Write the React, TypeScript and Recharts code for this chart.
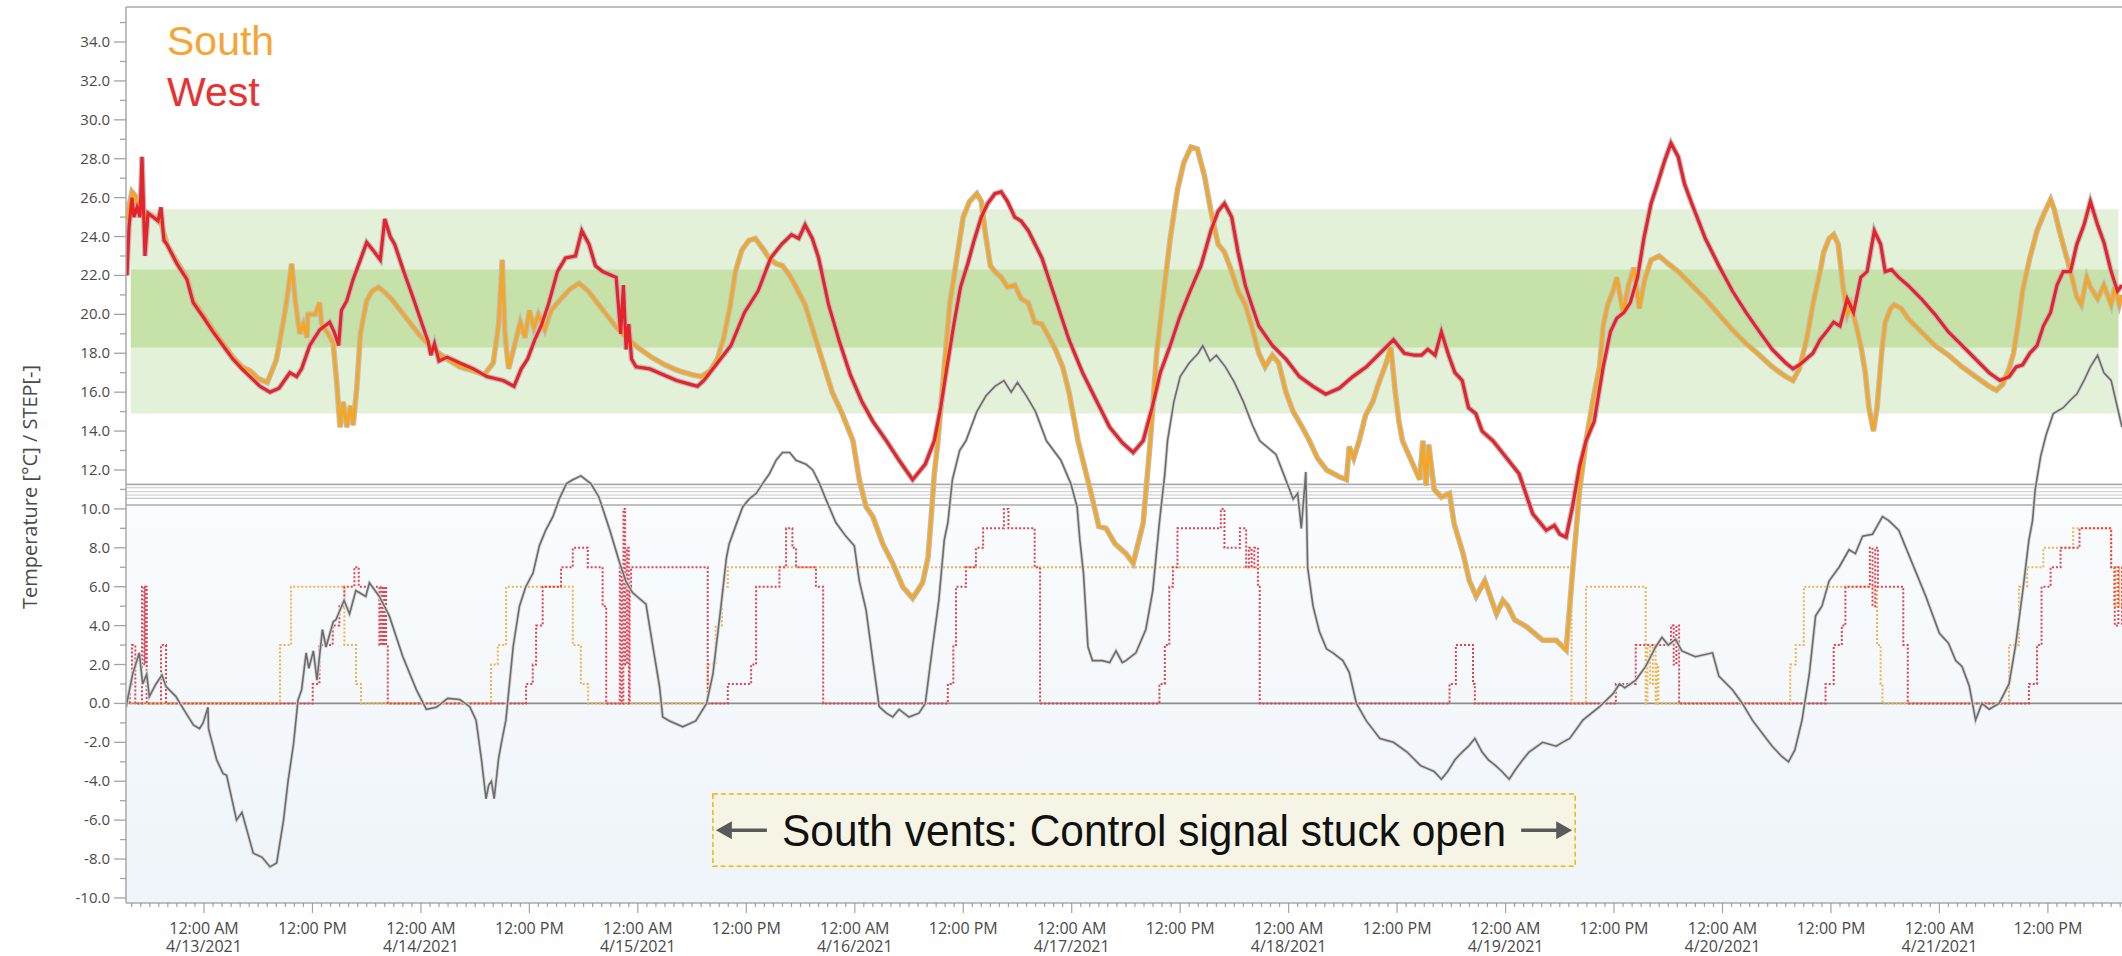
import React from "react";
import { LineChart, Line, XAxis, YAxis, ReferenceArea, ReferenceLine } from "recharts";

// hours counted from 4/13/2021 12:00 AM
const X_MIN = -8.63;
const X_MAX = 212.2;
const Y_MIN = -10.26;
const Y_MAX = 35.8;
const PLOT_LEFT = 126;
const AXIS_Y = 903;

const dateLabels = [
  "4/13/2021", "4/14/2021", "4/15/2021", "4/16/2021", "4/17/2021",
  "4/18/2021", "4/19/2021", "4/20/2021", "4/21/2021",
];
const halfDayLabels = ["12:00 AM", "12:00 PM"];
const hourTicks = Array.from({ length: 221 }, (_, i) => i - 8);
const yTicks = Array.from({ length: 46 }, (_, i) => i - 10);
const breakLines = [11.26, 11.09, 10.88, 10.71, 10.54, 10.2];

const southTemp: [number, number][] = [
  [-8.55, 24.8], [-8.3, 25.5], [-7.97, 26.3], [-7.6, 26.1], [-7.3, 25.4], [-7.0, 26.0], [-6.7, 25.2],
  [-6.3, 25.0], [-5.8, 25.1], [-5.2, 24.9], [-4.7, 24.6], [-4.1, 23.6], [-3.0, 22.7], [-1.9, 21.9],
  [-1.2, 20.7], [0.0, 19.9], [1.0, 19.2], [2.1, 18.5], [3.2, 17.8], [4.2, 17.3], [5.1, 17.1], [6.0, 16.7],
  [7.0, 16.5], [8.0, 17.65], [8.8, 19.7], [9.15, 20.7], [9.7, 22.6], [10.1, 20.7], [10.6, 19.0], [11.0, 19.5],
  [11.4, 18.8], [11.5, 20.0], [12.3, 20.0], [12.8, 20.6], [13.0, 19.5], [13.75, 19.0], [14.3, 18.5],
  [14.7, 16.4], [15.05, 14.2], [15.4, 15.5], [15.8, 14.2], [16.2, 15.3], [16.5, 14.3], [16.9, 16.2],
  [17.3, 19.0], [18.0, 20.7], [18.6, 21.2], [19.3, 21.4], [20.1, 21.1], [20.9, 20.7], [22.4, 19.8],
  [23.9, 18.9], [25.4, 18.2], [26.9, 17.7], [28.3, 17.3], [29.8, 17.1], [31.0, 16.9], [32.0, 17.5],
  [32.6, 19.5], [33.0, 22.8], [33.3, 19.0], [33.7, 17.2], [34.4, 18.5], [35.0, 19.6], [35.5, 18.8],
  [36.0, 20.2], [36.5, 19.3], [37.0, 20.0], [37.7, 19.2], [38.4, 20.2], [39.5, 20.8], [40.5, 21.3],
  [41.5, 21.6], [42.5, 21.2], [43.5, 20.6], [44.5, 20.0], [45.5, 19.4], [46.5, 18.9], [48.0, 18.3],
  [49.5, 17.8], [51.0, 17.4], [52.5, 17.1], [54.0, 16.9], [55.0, 16.8], [56.0, 17.1], [56.8, 17.7],
  [57.5, 18.8], [58.2, 20.4], [58.8, 22.2], [59.5, 23.3], [60.3, 23.8], [61.0, 23.9], [61.8, 23.4],
  [62.5, 22.9], [63.3, 22.6], [64.0, 22.5], [64.8, 22.0], [65.5, 21.4], [66.5, 20.5], [67.5, 19.0],
  [68.5, 17.5], [69.5, 16.0], [70.6, 14.9], [71.8, 13.5], [72.5, 11.5], [73.25, 10.1], [74.0, 9.6],
  [75.1, 8.2], [76.2, 7.2], [77.3, 6.0], [78.4, 5.4], [79.5, 6.2], [80.1, 7.5], [80.4, 9.25], [80.8, 11.8],
  [81.2, 13.5], [81.9, 17.3], [82.5, 20.5], [83.3, 22.9], [84.0, 25.0], [84.7, 25.8], [85.5, 26.2],
  [86.0, 25.8], [86.4, 24.3], [87.0, 22.5], [87.5, 22.2], [88.2, 21.9], [88.9, 21.4], [89.7, 21.5],
  [90.4, 20.8], [91.2, 20.6], [91.9, 19.6], [92.7, 19.5], [93.4, 18.9], [94.2, 18.2], [95.0, 17.3],
  [95.7, 16.0], [96.7, 13.5], [98.3, 10.5], [99.0, 9.1], [99.8, 9.0], [100.8, 8.2], [102.0, 7.7],
  [102.8, 7.2], [103.9, 9.25], [104.7, 13.5], [105.4, 18.0], [106.2, 21.2], [106.9, 23.9], [107.7, 26.4],
  [108.4, 27.8], [109.2, 28.6], [109.9, 28.5], [110.7, 27.1], [111.4, 25.3], [112.2, 23.6], [112.9, 23.2],
  [113.7, 22.2], [114.4, 21.2], [115.2, 20.5], [115.9, 19.4], [116.7, 18.0], [117.4, 17.3], [118.2, 17.9],
  [118.9, 17.5], [119.7, 16.0], [120.5, 15.0], [121.5, 14.2], [122.3, 13.5], [123.2, 12.6], [124.2, 12.0],
  [125.6, 11.65], [126.4, 11.5], [126.7, 13.2], [127.2, 12.6], [127.8, 13.5], [128.5, 14.8], [129.3, 15.5],
  [130.0, 16.5], [130.8, 17.5], [131.3, 18.3], [131.8, 16.0], [132.2, 14.5], [132.6, 13.5], [134.5, 11.5],
  [134.85, 13.5], [135.2, 11.2], [135.5, 13.3], [136.1, 11.0], [136.9, 10.6], [137.8, 10.8], [138.3, 9.25],
  [139.3, 7.7], [140.0, 6.3], [140.75, 5.5], [141.7, 6.3], [142.2, 5.65], [143.0, 4.6], [143.7, 5.3],
  [144.25, 5.0], [145.0, 4.3], [146.3, 3.95], [148.1, 3.25], [149.6, 3.25], [150.7, 2.74], [151.4, 6.7],
  [152.2, 11.0], [152.9, 13.5], [153.8, 15.9], [154.4, 17.3], [154.8, 19.4], [155.3, 20.5], [155.9, 21.2],
  [156.3, 21.9], [157.0, 20.1], [157.6, 21.5], [158.2, 22.4], [158.8, 20.3], [159.4, 21.8], [160.1, 22.8],
  [161.0, 23.0], [162.0, 22.6], [163.1, 22.2], [164.6, 21.5], [166.1, 20.8], [167.6, 20.0], [169.1, 19.2],
  [170.6, 18.5], [172.1, 17.9], [173.5, 17.3], [175.0, 16.8], [175.8, 16.6], [176.5, 17.2], [177.3, 18.7],
  [178.0, 20.5], [178.8, 22.2], [179.2, 23.2], [179.8, 23.9], [180.3, 24.1], [180.8, 23.6], [181.4, 21.2],
  [181.8, 20.0], [182.2, 20.5], [182.8, 19.4], [183.3, 18.4], [183.8, 17.0], [184.2, 15.2], [184.7, 14.0],
  [185.1, 15.2], [185.6, 18.0], [186.0, 19.6], [186.6, 20.3], [187.0, 20.5], [187.8, 20.3], [188.5, 19.8],
  [190.0, 19.1], [191.5, 18.4], [193.0, 17.9], [194.5, 17.3], [196.0, 16.8], [197.5, 16.3], [198.3, 16.1],
  [199.0, 16.4], [199.7, 17.2], [200.2, 18.0], [200.8, 19.8], [201.2, 21.2], [202.0, 22.9], [202.8, 24.3],
  [203.5, 25.1], [204.3, 25.9], [204.7, 25.4], [205.0, 24.8], [205.5, 23.9], [206.1, 22.9], [206.5, 22.2],
  [207.2, 20.9], [207.7, 20.5], [208.3, 21.9], [208.7, 21.4], [209.5, 20.8], [210.2, 21.5], [211.0, 20.5],
  [211.4, 21.4], [211.9, 20.5], [212.2, 21.0],
];

const westTemp: [number, number][] = [
  [-8.52, 22.0], [-8.3, 24.5], [-7.97, 26.0], [-7.75, 25.0], [-7.41, 25.5], [-7.08, 25.0], [-6.86, 28.1],
  [-6.53, 23.0], [-6.2, 25.2], [-5.64, 25.0], [-5.09, 24.8], [-4.76, 25.5], [-4.43, 23.8], [-4.1, 23.6],
  [-3.0, 22.6], [-1.9, 21.8], [-1.2, 20.6], [0.0, 19.8], [1.0, 19.1], [2.1, 18.4], [3.2, 17.7], [4.2, 17.2],
  [5.1, 16.8], [6.2, 16.3], [7.3, 16.0], [8.3, 16.2], [9.5, 17.0], [10.25, 16.8], [10.8, 17.2], [11.7, 18.4],
  [12.8, 19.2], [13.9, 19.6], [14.4, 19.1], [14.9, 18.4], [15.2, 20.2], [15.8, 20.7], [16.5, 21.8],
  [17.3, 22.8], [18.0, 23.7], [18.7, 23.3], [19.5, 22.8], [20.0, 24.9], [20.6, 24.0], [21.1, 23.6],
  [22.1, 22.2], [23.1, 20.9], [24.2, 19.4], [24.8, 18.6], [25.1, 17.9], [25.5, 18.5], [26.0, 17.6],
  [26.9, 17.8], [28.3, 17.5], [29.8, 17.2], [31.3, 16.8], [33.1, 16.6], [34.3, 16.3], [35.1, 17.2],
  [35.8, 17.7], [36.6, 18.7], [37.3, 19.4], [38.1, 20.5], [39.1, 22.2], [40.0, 22.9], [41.1, 23.0],
  [41.8, 24.3], [42.6, 23.6], [43.3, 22.5], [44.1, 22.2], [45.1, 22.0], [45.6, 21.9], [46.1, 19.0],
  [46.4, 21.5], [46.7, 18.2], [47.0, 19.5], [47.3, 17.7], [47.8, 17.3], [49.3, 17.2], [50.8, 16.9],
  [52.3, 16.6], [53.8, 16.4], [54.6, 16.3], [55.3, 16.6], [56.8, 17.5], [58.3, 18.4], [59.8, 20.1],
  [61.3, 21.2], [62.7, 22.9], [63.9, 23.6], [65.0, 24.1], [65.8, 23.9], [66.5, 24.6], [67.3, 23.9],
  [68.0, 22.9], [69.1, 20.5], [70.3, 18.6], [71.5, 16.9], [72.8, 15.5], [74.0, 14.5], [75.5, 13.5],
  [76.9, 12.5], [78.4, 11.5], [79.8, 12.3], [80.8, 13.5], [81.5, 15.2], [82.2, 17.3], [83.0, 19.6],
  [83.7, 21.4], [84.5, 22.6], [85.2, 23.8], [86.0, 25.0], [86.7, 25.7], [87.5, 26.2], [88.2, 26.3],
  [88.9, 25.8], [89.7, 25.0], [90.4, 24.8], [91.2, 24.3], [92.7, 22.9], [94.2, 20.8], [95.7, 18.7],
  [97.2, 17.0], [98.7, 15.6], [100.2, 14.2], [101.6, 13.4], [102.8, 12.9], [103.9, 13.5], [104.9, 15.2],
  [105.8, 17.0], [106.9, 18.4], [107.9, 19.8], [109.1, 21.2], [110.3, 22.5], [111.4, 24.3], [112.2, 25.3],
  [112.9, 25.7], [113.7, 25.0], [114.4, 23.2], [115.2, 21.5], [115.9, 20.5], [116.7, 19.4], [118.2, 18.4],
  [119.7, 17.7], [121.2, 16.8], [122.7, 16.3], [124.1, 15.9], [125.6, 16.2], [127.1, 16.8], [128.6, 17.3],
  [130.1, 18.0], [131.6, 18.7], [132.8, 18.0], [133.9, 17.9], [134.7, 17.9], [135.4, 18.2], [136.2, 17.9],
  [136.9, 19.1], [137.7, 17.9], [138.4, 17.0], [139.2, 16.6], [139.9, 15.2], [140.7, 14.9], [141.4, 14.0],
  [142.6, 13.5], [145.5, 11.8], [147.0, 9.75], [148.5, 8.9], [149.4, 9.15], [150.0, 8.7], [150.7, 8.55],
  [151.4, 10.1], [152.2, 12.2], [152.9, 13.5], [153.8, 14.5], [154.8, 17.3], [155.6, 19.1], [156.3, 19.8],
  [157.1, 20.1], [157.8, 20.6], [158.6, 21.9], [159.3, 23.9], [160.1, 25.7], [160.8, 26.7], [161.6, 27.9],
  [162.3, 28.8], [163.1, 28.1], [163.8, 26.7], [164.6, 25.7], [166.1, 23.9], [167.6, 22.5], [169.1, 21.2],
  [170.6, 20.1], [172.1, 19.1], [173.5, 18.2], [175.0, 17.5], [175.8, 17.2], [176.5, 17.4], [178.0, 18.0],
  [178.8, 18.7], [179.5, 19.1], [180.3, 19.6], [181.0, 19.4], [181.8, 20.8], [182.5, 20.1], [183.3, 21.9],
  [184.0, 22.2], [184.8, 24.3], [185.5, 23.6], [186.0, 22.2], [186.7, 22.3], [187.5, 21.9], [188.5, 21.5],
  [190.0, 20.8], [191.5, 20.0], [193.0, 19.1], [194.5, 18.4], [196.0, 17.7], [197.5, 17.0], [198.7, 16.6],
  [199.7, 16.8], [200.5, 17.3], [201.2, 17.4], [202.0, 18.0], [202.8, 18.4], [203.5, 19.4], [204.3, 20.1],
  [205.0, 21.5], [205.7, 22.2], [206.5, 22.2], [207.2, 23.6], [208.0, 24.6], [208.7, 25.8], [209.5, 24.6],
  [210.2, 23.7], [211.0, 22.2], [211.7, 21.2], [212.2, 21.5],
];

const outdoorTemp: [number, number][] = [
  [-8.63, -0.2], [-7.9, 1.5], [-7.16, 2.6], [-6.79, 1.0], [-6.34, 1.5], [-6.05, 0.35], [-5.31, 1.0],
  [-4.65, 1.46], [-4.2, 0.86], [-3.1, 0.35], [-2.66, 0.0], [-1.18, -1.1], [-0.5, -1.3], [-0.1, -1.0],
  [0.44, -0.2], [0.5, -1.3], [1.4, -2.9], [2.1, -3.6], [2.5, -3.7], [3.6, -6.0], [4.2, -5.6], [5.45, -7.7],
  [6.4, -7.9], [7.3, -8.4], [8.04, -8.2], [8.8, -6.0], [9.3, -4.0], [9.9, -2.1], [10.4, 0.17], [10.8, 0.7],
  [11.3, 2.6], [11.6, 1.8], [12.1, 2.7], [12.5, 1.2], [13.1, 3.8], [13.5, 2.9], [14.3, 4.2], [14.6, 4.3],
  [15.5, 5.3], [16.1, 4.6], [16.8, 5.8], [17.9, 5.5], [18.3, 6.2], [19.4, 5.5], [20.5, 4.5], [22.0, 2.4],
  [23.5, 0.7], [24.6, -0.3], [25.7, -0.2], [26.96, 0.26], [28.3, 0.2], [29.4, -0.17], [30.1, -0.86],
  [30.7, -2.9], [31.2, -4.9], [31.5, -4.2], [31.8, -4.0], [32.1, -4.9], [32.6, -2.8], [33.0, -1.8],
  [33.4, -0.86], [34.2, 2.9], [34.9, 5.0], [35.6, 6.0], [36.4, 6.7], [37.1, 8.1], [37.8, 8.9], [38.6, 9.6],
  [39.3, 10.5], [40.1, 11.3], [40.8, 11.5], [41.7, 11.7], [42.8, 11.3], [43.7, 10.6], [44.9, 8.9],
  [46.0, 7.2], [46.7, 6.25], [47.4, 5.7], [48.9, 5.1], [49.6, 3.1], [50.4, 0.86], [50.75, -0.7],
  [51.5, -0.9], [52.97, -1.2], [54.4, -0.9], [55.6, 0.0], [56.3, 1.5], [57.2, 5.0], [57.8, 7.5], [58.1, 8.2],
  [58.8, 9.1], [59.6, 10.1], [60.3, 10.5], [61.1, 10.8], [61.8, 11.3], [62.55, 11.8], [63.3, 12.5],
  [64.0, 12.9], [64.8, 12.9], [65.5, 12.5], [66.6, 12.3], [67.35, 12.0], [68.1, 11.3], [68.8, 10.5],
  [69.9, 9.3], [71.0, 8.6], [71.95, 8.1], [72.5, 6.3], [73.25, 4.8], [74.0, 2.2], [74.7, -0.17],
  [75.5, -0.5], [76.2, -0.7], [76.9, -0.3], [78.0, -0.7], [79.1, -0.5], [79.8, 0.0], [80.6, 2.9],
  [81.3, 5.3], [81.9, 8.4], [82.3, 9.3], [82.8, 11.5], [83.6, 13.0], [84.3, 13.5], [85.5, 15.0],
  [86.5, 15.8], [87.5, 16.3], [88.5, 16.6], [89.3, 16.0], [90.0, 16.5], [91.0, 15.8], [92.0, 15.0],
  [93.2, 13.5], [94.8, 12.5], [95.9, 11.3], [96.6, 10.1], [96.9, 8.4], [97.3, 6.7], [97.8, 2.9],
  [98.3, 2.2], [99.4, 2.2], [100.2, 2.1], [100.9, 2.7], [101.6, 2.1], [102.0, 2.2], [103.1, 2.6],
  [104.2, 3.8], [104.97, 5.8], [105.7, 9.3], [106.3, 11.8], [106.6, 13.5], [107.3, 15.5], [108.0, 16.8],
  [109.0, 17.5], [110.0, 18.0], [110.5, 18.4], [111.3, 17.6], [112.0, 17.9], [113.0, 17.3], [114.0, 16.5],
  [115.0, 15.5], [116.0, 14.3], [116.8, 13.5], [118.6, 12.8], [120.1, 11.0], [120.5, 10.5], [121.0, 10.8],
  [121.4, 9.0], [121.9, 11.9], [122.1, 7.0], [122.7, 5.0], [123.4, 3.7], [124.2, 2.8], [124.9, 2.6],
  [126.0, 2.2], [126.7, 1.6], [127.5, 0.0], [128.6, -0.9], [130.1, -1.8], [131.6, -2.0], [133.1, -2.5],
  [134.6, -3.2], [136.1, -3.5], [136.9, -3.9], [137.6, -3.5], [138.4, -2.9], [139.2, -2.5], [139.9, -2.2],
  [140.6, -1.8], [141.4, -2.5], [142.1, -2.9], [142.9, -3.2], [143.6, -3.5], [144.4, -3.9], [145.1, -3.4],
  [145.9, -2.9], [146.6, -2.5], [148.1, -2.0], [149.6, -2.2], [150.3, -2.0], [151.1, -1.8], [152.55, -0.86],
  [154.4, -0.17], [155.9, 0.5], [156.6, 1.0], [157.2, 0.8], [158.4, 1.2], [159.5, 1.9], [160.6, 2.9],
  [161.3, 3.4], [162.0, 3.0], [162.8, 3.3], [163.5, 2.7], [165.0, 2.4], [166.9, 2.6], [167.6, 1.4],
  [169.1, 0.7], [170.2, 0.0], [171.3, -0.86], [172.5, -1.6], [173.5, -2.2], [174.5, -2.7], [175.3, -3.0],
  [176.0, -2.4], [176.8, -0.86], [177.6, 1.5], [178.3, 4.5], [179.0, 5.0], [179.8, 6.3], [180.9, 7.0],
  [182.0, 7.9], [182.7, 7.7], [183.5, 8.6], [184.6, 8.7], [185.7, 9.6], [186.4, 9.4], [187.5, 8.9],
  [189.0, 7.2], [190.5, 5.5], [192.0, 3.6], [193.0, 3.1], [193.8, 2.2], [194.5, 1.9], [195.3, 0.9],
  [196.0, -0.86], [196.7, 0.0], [197.5, -0.3], [198.6, 0.0], [199.7, 1.0], [200.4, 2.9], [201.2, 5.7],
  [201.9, 8.4], [202.3, 9.4], [202.6, 11.0], [203.2, 12.7], [203.8, 13.8], [204.6, 14.9], [205.7, 15.2],
  [206.5, 15.6], [207.2, 15.9], [208.0, 16.6], [208.7, 17.3], [209.5, 17.9], [210.2, 17.0], [211.0, 16.6],
  [211.7, 15.2], [212.2, 14.2],
];

const southVent: [number, number][] = [
  [-8.63, 0], [8.41, 3], [9.63, 6], [15.53, 3], [16.82, 1], [17.37, 0], [31.76, 2], [32.5, 3], [33.42, 6],
  [40.8, 3], [41.7, 1], [42.5, 0], [55.73, 2], [56.6, 4], [57.3, 6], [57.95, 7], [151.3, 0], [152.9, 6],
  [159.5, 0], [159.7, 3], [160.0, 1], [160.3, 3], [160.6, 0], [160.7, 2], [160.9, 0], [175.5, 2],
  [176.1, 3], [177.0, 6], [185.1, 3], [185.5, 1], [185.7, 0], [199.7, 3], [200.8, 6], [201.7, 7],
  [203.5, 8], [206.8, 9], [211.0, 7], [211.3, 5], [211.6, 7], [211.9, 5], [212.2, 5],
];

const westVent: [number, number][] = [
  [-8.63, 0], [-8.2, 1], [-7.97, 3], [-7.6, 0], [-6.86, 6], [-6.6, 2], [-6.5, 6], [-6.34, 0], [-4.76, 3],
  [-4.2, 0], [12.03, 1], [12.77, 3], [14.24, 4], [14.98, 5], [15.53, 6], [16.64, 7], [17.12, 6], [19.4, 3],
  [19.6, 6], [19.8, 3], [20.0, 6], [20.15, 3], [20.33, 0], [35.63, 1], [36.37, 2], [36.74, 4], [37.47, 6],
  [39.5, 7], [40.8, 8], [42.46, 7], [44.1, 5], [44.5, 0], [46.0, 7], [46.2, 0], [46.4, 10], [46.6, 2],
  [46.8, 8], [47.0, 0], [47.1, 6], [47.25, 7], [55.73, 0], [57.95, 1], [60.53, 2], [61.08, 6], [63.66, 7],
  [64.4, 9], [65.1, 8], [65.5, 7], [67.7, 6], [68.5, 0], [82.29, 1], [82.9, 3], [83.2, 6], [84.3, 7],
  [85.4, 8], [86.2, 9], [88.5, 10], [89.0, 9], [91.9, 7], [92.5, 0], [105.7, 1], [106.3, 3], [106.8, 6],
  [107.2, 7], [107.7, 9], [112.5, 10], [112.9, 8], [114.6, 9], [115.3, 7], [115.6, 8], [115.9, 7],
  [116.2, 8], [116.6, 6], [116.8, 0], [137.8, 1], [138.5, 3], [140.4, 1], [140.6, 0], [156.2, 1],
  [158.4, 3], [162.3, 4], [162.6, 2], [162.9, 4], [163.2, 0], [179.4, 1], [180.3, 3], [181.2, 4],
  [181.6, 6], [184.3, 8], [184.6, 5], [184.9, 8], [185.2, 6], [188.0, 3], [188.5, 0], [201.9, 1],
  [202.8, 3], [203.3, 6], [204.3, 7], [205.4, 8], [207.5, 9], [211.0, 7], [211.4, 4], [211.8, 7],
  [212.2, 4],
];

const toPts = (arr: [number, number][]) => arr.map(([h, v]) => ({ h, v }));

const southPts = toPts(southTemp);
const westPts = toPts(westTemp);
const outdoorPts = toPts(outdoorTemp);
const southVentPts = toPts(southVent);
const westVentPts = toPts(westVent);

const tickFont = "'Open Sans', 'Noto Sans', sans-serif";

function XTick(props: any) {
  const { x, payload } = props;
  const h = payload.value as number;
  const major = h % 12 === 0;
  const midnight = h % 24 === 0;
  return (
    <g>
      <line x1={x} x2={x} y1={AXIS_Y} y2={AXIS_Y + (major ? 10 : 4)} stroke="#a3a3a3" strokeWidth={1.2} />
      {major && (
        <text x={x} y={934} textAnchor="middle" fontFamily={tickFont} fontSize={16} fill="#4a4a4a">
          {halfDayLabels[midnight ? 0 : 1]}
        </text>
      )}
      {midnight && (
        <text x={x} y={952} textAnchor="middle" fontFamily={tickFont} fontSize={16} fill="#4a4a4a">
          {dateLabels[h / 24]}
        </text>
      )}
    </g>
  );
}

function YTick(props: any) {
  const { y, payload } = props;
  const v = payload.value as number;
  const major = v % 2 === 0;
  return (
    <g>
      <line x1={PLOT_LEFT - (major ? 12 : 6)} x2={PLOT_LEFT} y1={y} y2={y} stroke="#a3a3a3" strokeWidth={1.3} />
      {major && (
        <text x={110} y={y + 5} textAnchor="end" fontFamily={tickFont} fontSize={15} fill="#4a4a4a">
          {v.toFixed(1)}
        </text>
      )}
    </g>
  );
}

function AnnotationLabel(props: any) {
  const vb = props.viewBox || {};
  const { x = 0, y = 0, width = 0, height = 0 } = vb;
  const cy = y + height / 2;
  return (
    <g>
      <line x1={x + 16} x2={x + 54} y1={cy} y2={cy} stroke="#5a5a5a" strokeWidth={3.5} />
      <polygon points={`${x + 3},${cy} ${x + 19},${cy - 9} ${x + 19},${cy + 9}`} fill="#5a5a5a" />
      <text
        x={x + width / 2}
        y={cy + 16}
        textAnchor="middle"
        fontFamily="'Liberation Sans', Arial, sans-serif"
        fontSize={45}
        textLength={724}
        lengthAdjust="spacingAndGlyphs"
        fill="#111"
      >
        South vents: Control signal stuck open
      </text>
      <line x1={x + width - 54} x2={x + width - 16} y1={cy} y2={cy} stroke="#5a5a5a" strokeWidth={3.5} />
      <polygon points={`${x + width - 3},${cy} ${x + width - 19},${cy - 9} ${x + width - 19},${cy + 9}`} fill="#5a5a5a" />
    </g>
  );
}

export default function App() {
  return (
    <div style={{ position: "absolute", left: 0, top: 0, width: 2122, height: 956, background: "#fff" }}>
      <LineChart width={2122} height={956} margin={{ top: 7, right: 0, bottom: 0, left: 0 }}>
        <defs>
          <linearGradient id="lowBg" x1="0" y1="0" x2="0" y2="1">
            <stop offset="0" stopColor="#FAFCFE" />
            <stop offset="1" stopColor="#EEF4F9" />
          </linearGradient>
        </defs>
        <XAxis
          dataKey="h"
          type="number"
          domain={[X_MIN, X_MAX]}
          ticks={hourTicks}
          interval={0}
          tick={<XTick />}
          tickLine={false}
          axisLine={{ stroke: "#a8a8a8", strokeWidth: 1.5 }}
          height={53}
          allowDataOverflow
        />
        <YAxis
          type="number"
          domain={[Y_MIN, Y_MAX]}
          ticks={yTicks}
          interval={0}
          tick={<YTick />}
          tickLine={false}
          axisLine={{ stroke: "#a8a8a8", strokeWidth: 1.5 }}
          width={PLOT_LEFT}
          allowDataOverflow
        />

        <ReferenceArea y1={Y_MIN} y2={10.2} fill="url(#lowBg)" fillOpacity={1} stroke="none" />
        <ReferenceArea x1={-8.1} x2={211.8} y1={14.9} y2={25.4} fill="#E3F1D8" fillOpacity={1} stroke="none" />
        <ReferenceArea x1={-8.1} x2={211.8} y1={18.3} y2={22.3} fill="#C6E2A8" fillOpacity={1} stroke="none" />
        {breakLines.map((v, i) => (
          <ReferenceLine
            key={v}
            y={v}
            stroke={i === 0 || i === breakLines.length - 1 ? "#ababab" : "#c8c8c8"}
            strokeWidth={i === 0 || i === breakLines.length - 1 ? 1.6 : 1.1}
          />
        ))}
        <ReferenceLine y={Y_MAX} stroke="#a8a8a8" strokeWidth={1.5} />
        <ReferenceLine y={0} stroke="#8c8c8c" strokeWidth={1.6} />
        <ReferenceArea
          x1={56.3}
          x2={151.7}
          y1={-8.37}
          y2={-4.66}
          fill="#F6F4E4"
          fillOpacity={1}
          stroke="#F2B600"
          strokeWidth={1.5}
          strokeDasharray="5 3"
          label={<AnnotationLabel />}
        />

        <Line data={southVentPts} dataKey="v" type="stepAfter" stroke="#F3B34E" strokeWidth={2} strokeDasharray="2 2" dot={false} isAnimationActive={false} />
        <Line data={westVentPts} dataKey="v" type="stepAfter" stroke="#E4424E" strokeWidth={2} strokeDasharray="2 2" dot={false} isAnimationActive={false} />

        <Line data={outdoorPts} dataKey="v" type="linear" stroke="#d6d6d6" strokeWidth={3.4} dot={false} isAnimationActive={false} />
        <Line data={outdoorPts} dataKey="v" type="linear" stroke="#6c6c6c" strokeWidth={1.6} dot={false} isAnimationActive={false} />

        <Line data={southPts} dataKey="v" type="linear" stroke="#bdbdbd" strokeWidth={5.6} dot={false} isAnimationActive={false} />
        <Line data={westPts} dataKey="v" type="linear" stroke="#bdbdbd" strokeWidth={5.6} dot={false} isAnimationActive={false} />
        <Line data={southPts} dataKey="v" type="linear" stroke="#F5A623" strokeWidth={3.2} dot={false} isAnimationActive={false} />
        <Line data={westPts} dataKey="v" type="linear" stroke="#E8222A" strokeWidth={3.2} dot={false} isAnimationActive={false} />
      </LineChart>

      <svg width={2122} height={956} style={{ position: "absolute", left: 0, top: 0, pointerEvents: "none" }}>
        <text x={167} y={55} fontFamily="'Liberation Sans', Arial, sans-serif" fontSize={41} fill="#F6A533">
          South
        </text>
        <text x={167} y={106} fontFamily="'Liberation Sans', Arial, sans-serif" fontSize={41} fill="#E9312F">
          West
        </text>
        <text
          transform="translate(37 487) rotate(-90)"
          textAnchor="middle"
          fontFamily={tickFont}
          fontSize={20}
          fill="#4a4a4a"
        >
          Temperature [°C] / STEP[-]
        </text>
      </svg>
    </div>
  );
}
